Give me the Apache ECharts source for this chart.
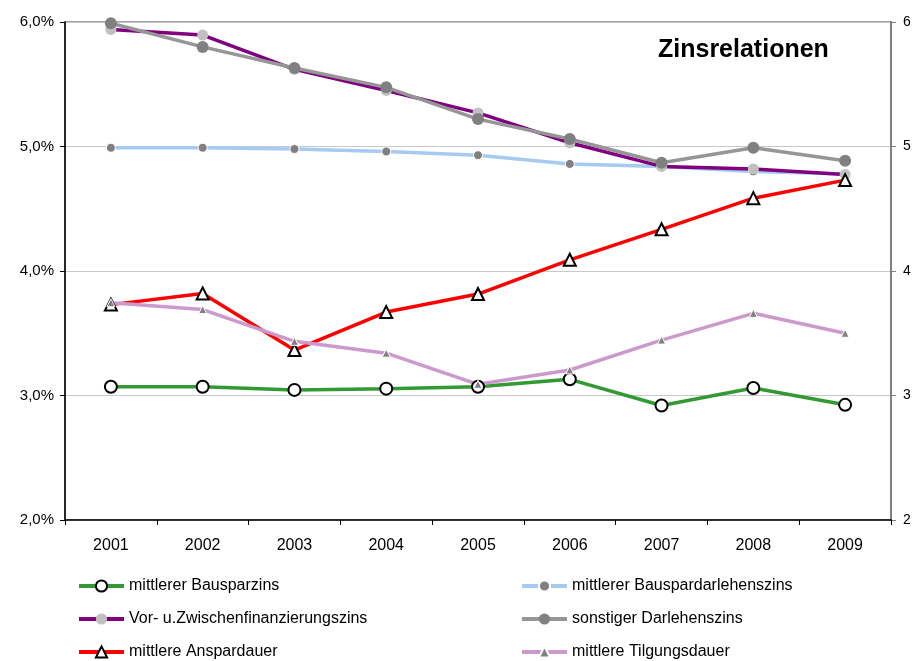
<!DOCTYPE html>
<html>
<head>
<meta charset="utf-8">
<script src="https://cdn.jsdelivr.net/npm/echarts@6/dist/echarts.min.js"></script>
<style>
  html, body { margin: 0; padding: 0; background: #fff; }
  #chart { width: 914px; height: 661px; }
</style>
</head>
<body>
<div id="chart"></div>
<script>
// Jahre
var years = ['2001', '2002', '2003', '2004', '2005', '2006', '2007', '2008', '2009'];

// Zinssätze in %
var bausparzins = [3.07, 3.07, 3.045, 3.055, 3.07, 3.13, 2.92, 3.06, 2.925];
var bauspardarlehenszins = [4.99, 4.99, 4.98, 4.96, 4.93, 4.86, 4.84, 4.80, 4.78];
var zwischenfinanzierung = [5.94, 5.895, 5.62, 5.45, 5.27, 5.03, 4.84, 4.82, 4.775];
var sonstigerDarlehenszins = [5.99, 5.80, 5.63, 5.475, 5.22, 5.06, 4.87, 4.99, 4.885];

// Laufzeiten (rechte Achse)
var anspardauer = [3.73, 3.82, 3.365, 3.67, 3.815, 4.09, 4.335, 4.585, 4.73];
var tilgungsdauer = [3.745, 3.69, 3.435, 3.34, 3.09, 3.205, 3.445, 3.66, 3.50];

var fontName = 'Liberation Sans, Arial, sans-serif';

var chart = echarts.init(document.getElementById('chart'));

// eine Linie bauen
function lineSeries(name, data, color, symbol, size, itemStyle, axis) {
    return {
        name: name,
        type: 'line',
        data: data,
        yAxisIndex: axis || 0,
        symbol: symbol,
        symbolSize: size,
        lineStyle: { color: color, width: 3.5 },
        itemStyle: itemStyle,
        emphasis: { disabled: true }
    };
}

var legendText = { fontFamily: fontName, fontSize: 16, color: '#000' };

chart.setOption({
    animation: false,
    title: {
        text: 'Zinsrelationen',
        left: 653,
        top: 33,
        textStyle: { fontFamily: fontName, fontSize: 25, fontWeight: 'bold', color: '#000' }
    },
    legend: [{
        data: ['mittlerer Bausparzins', 'Vor- u.Zwischenfinanzierungszins', 'mittlere Anspardauer'],
        orient: 'vertical',
        left: 77,
        top: 578,
        height: 83,
        itemWidth: 45,
        itemHeight: 14,
        itemGap: 17,
        padding: 0,
        lineStyle: { width: 4 },
        textStyle: legendText
    }, {
        data: ['mittlerer Bauspardarlehenszins', 'sonstiger Darlehenszins', 'mittlere Tilgungsdauer'],
        orient: 'vertical',
        left: 520,
        top: 578,
        height: 83,
        itemWidth: 45,
        itemHeight: 14,
        itemGap: 17,
        padding: 0,
        lineStyle: { width: 4 },
        textStyle: legendText
    }],
    grid: {
        left: 65, right: 23, top: 22, bottom: 141,
        show: true, borderColor: '#808080', borderWidth: 1.5
    },
    xAxis: {
        type: 'category',
        data: years,
        boundaryGap: true,
        axisLine: { lineStyle: { color: '#000', width: 1.5 } },
        axisTick: { show: true, length: 5, lineStyle: { color: '#000' } },
        axisLabel: { color: '#000', fontFamily: fontName, fontSize: 16, margin: 18 }
    },
    yAxis: [{
        type: 'value',
        min: 2, max: 6, interval: 1,
        axisLine: { show: true, lineStyle: { color: '#000', width: 1.5 } },
        axisTick: { show: true, length: 5, lineStyle: { color: '#000' } },
        splitLine: { lineStyle: { color: '#c8c8c8', width: 1 } },
        axisLabel: {
            color: '#000', fontFamily: fontName, fontSize: 15, margin: 11,
            formatter: function (v) { return v.toFixed(1).replace('.', ',') + '%'; }
        }
    }, {
        type: 'value',
        min: 2, max: 6, interval: 1,
        position: 'right',
        axisLine: { show: true, lineStyle: { color: '#808080', width: 2 } },
        axisTick: { show: true, length: 5, lineStyle: { color: '#808080' } },
        splitLine: { show: false },
        axisLabel: { color: '#000', fontFamily: fontName, fontSize: 14, margin: 12 }
    }],
    series: [
        lineSeries('mittlerer Bausparzins', bausparzins, '#339933', 'circle', 12,
            { color: '#fff', borderColor: '#000', borderWidth: 2 }),
        lineSeries('mittlerer Bauspardarlehenszins', bauspardarlehenszins, '#a6caf0', 'circle', 9,
            { color: '#808080', borderColor: '#fff', borderWidth: 1 }),
        lineSeries('Vor- u.Zwischenfinanzierungszins', zwischenfinanzierung, '#800080', 'circle', 11,
            { color: '#c0c0c0', borderColor: '#c0c0c0', borderWidth: 0 }),
        lineSeries('sonstiger Darlehenszins', sonstigerDarlehenszins, '#969696', 'circle', 12,
            { color: '#808080', borderColor: '#808080', borderWidth: 0 }),
        lineSeries('mittlere Anspardauer', anspardauer, '#ff0000', 'triangle', 12,
            { color: '#fff', borderColor: '#000', borderWidth: 2 }, 1),
        lineSeries('mittlere Tilgungsdauer', tilgungsdauer, '#cc99cc', 'triangle', 8,
            { color: '#808080', borderColor: '#fff', borderWidth: 1 }, 1)
    ]
});
</script>
</body>
</html>
